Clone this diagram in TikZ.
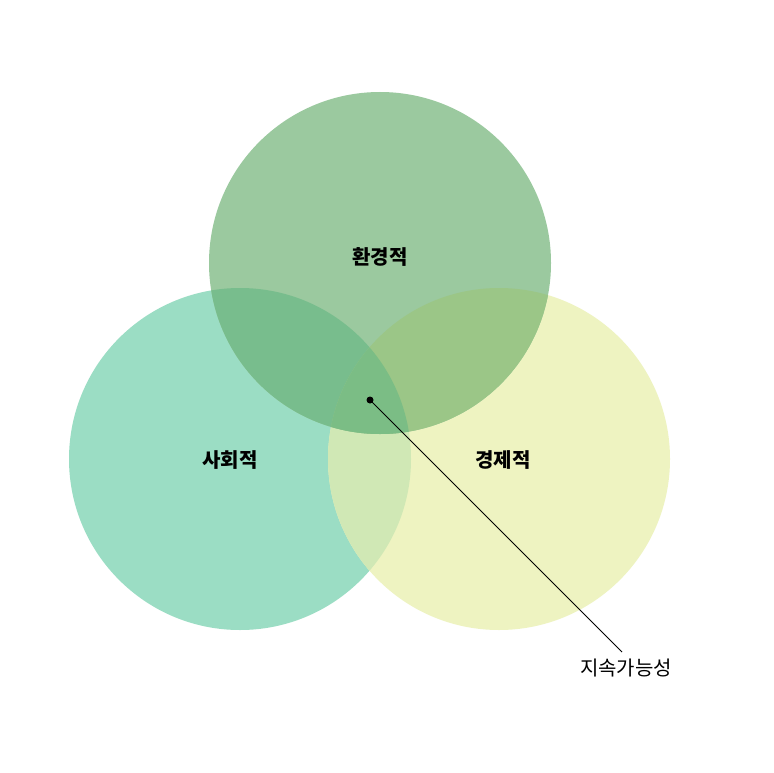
\documentclass[tikz,border=0pt]{standalone}
\usepackage{fontspec}
\setmainfont{Noto Sans CJK KR}
\begin{document}
\begin{tikzpicture}[x=1pt,y=-1pt]
\definecolor{cT}{HTML}{9BC99F}\definecolor{cL}{HTML}{9BDDC4}\definecolor{cR}{HTML}{EEF3C1}
\definecolor{cTL}{HTML}{78BD8D}\definecolor{cTR}{HTML}{9BC687}\definecolor{cLR}{HTML}{D0E8B5}\definecolor{cA}{HTML}{7BBD85}
\tikzset{lbl/.style={font=\fontsize{20}{24}\selectfont\bfseries}}
\fill[white] (0,0) rectangle (773,773);
\def\T{(380,263) circle (171)}\def\L{(240,459) circle (171)}\def\R{(499,459) circle (171)}
\fill[cL] \L; \fill[cR] \R; \fill[cT] \T;
\begin{scope}\clip \L; \fill[cLR] \R; \fill[cTL] \T; \end{scope}
\begin{scope}\clip \R; \fill[cTR] \T; \end{scope}
\begin{scope}\clip \L; \clip \R; \fill[cA] \T; \end{scope}
\node[lbl] (t) at (380,257) {환경적};
\node[lbl] (l) at (230,460) {사회적};
\node[lbl] (r) at (503,460) {경제적};
\coordinate (d) at (370,400);
\node[font=\fontsize{20}{24}\selectfont, anchor=north] (s) at (626,655) {지속가능성};
\fill (d) circle (3.5);
\draw[line width=0.8pt] (d) -- (622,652);
\end{tikzpicture}
\end{document}
